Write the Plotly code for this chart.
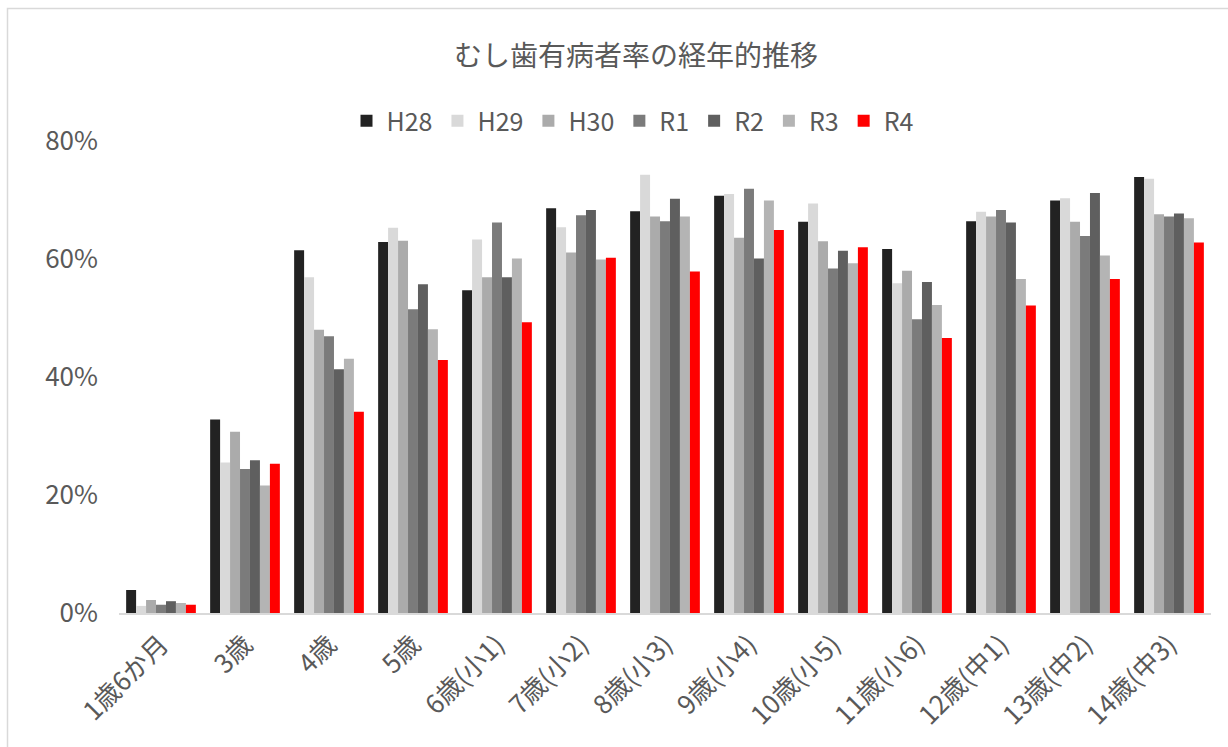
import plotly.graph_objects as go

categories = ["1歳6か月", "3歳", "4歳", "5歳", "6歳(小1)", "7歳(小2)", "8歳(小3)",
              "9歳(小4)", "10歳(小5)", "11歳(小6)", "12歳(中1)", "13歳(中2)", "14歳(中3)"]

series_names = ["H28", "H29", "H30", "R1", "R2", "R3", "R4"]

H28 = [3.9, 32.8, 61.5, 62.9, 54.7, 68.6, 68.1, 70.7, 66.3, 61.7, 66.4, 69.9, 73.9]
H29 = [1.2, 25.5, 56.9, 65.3, 63.3, 65.4, 74.3, 71.0, 69.4, 55.9, 68.0, 70.3, 73.6]
H30 = [2.2, 30.7, 48.0, 63.1, 56.9, 61.1, 67.2, 63.6, 63.0, 58.0, 67.2, 66.3, 67.6]
R1 = [1.4, 24.4, 46.9, 51.5, 66.2, 67.4, 66.4, 71.9, 58.4, 49.8, 68.3, 63.9, 67.2]
R2 = [2.0, 25.9, 41.3, 55.7, 56.9, 68.3, 70.2, 60.1, 61.4, 56.1, 66.2, 71.2, 67.7]
R3 = [1.7, 21.6, 43.1, 48.1, 60.1, 59.9, 67.2, 69.9, 59.3, 52.2, 56.6, 60.6, 66.9]
R4 = [1.4, 25.3, 34.1, 42.9, 49.3, 60.2, 57.9, 64.9, 62.0, 46.6, 52.1, 56.6, 62.8]

series_values = [H28, H29, H30, R1, R2, R3, R4]
colors = ["#222222", "#D9D9D9", "#ABABAB", "#7B7B7B", "#5F5F5F", "#B4B4B4", "#FF0000"]

FONT = "Noto Sans CJK JP"
TXT = "#595959"

fig = go.Figure()
for name, vals, col in zip(series_names, series_values, colors):
    fig.add_trace(go.Bar(
        name=name, x=categories, y=[v / 100 for v in vals],
        marker=dict(color=col, line=dict(width=0)),
    ))

L, R, T, B = 119, 17, 141, 134
W, H = 1228, 747
pw, ph = W - L - R, H - T - B

def px2x(px):
    return (px - L) / pw

def py2y(py):
    return (H - B - py) / ph

fig.update_layout(
    width=W, height=H,
    margin=dict(l=L, r=R, t=T, b=B, pad=0, autoexpand=False),
    paper_bgcolor="white", plot_bgcolor="white",
    barmode="group", bargap=0.17, bargroupgap=0,
    font=dict(family=FONT, color=TXT, size=25),
    title=dict(text="むし歯有病者率の経年的推移", x=636 / W, xanchor="center",
               y=1 - 56 / H, yanchor="middle",
               font=dict(family=FONT, size=28, color=TXT)),
    legend=dict(orientation="h", x=px2x(633), xanchor="center", y=py2y(121), yanchor="middle",
                font=dict(family=FONT, size=25, color=TXT), itemwidth=30,
                bgcolor="rgba(0,0,0,0)", traceorder="normal"),
    xaxis=dict(showline=True, linecolor="#D9D9D9", linewidth=2, ticks="",
               tickangle=-45, tickfont=dict(size=26, color=TXT, family=FONT),
               showgrid=False, ticklabelstandoff=4, automargin=False),
    yaxis=dict(range=[0, 0.8], dtick=0.2, tickformat=".0%", showgrid=False,
               zeroline=False, showline=False, ticks="", automargin=False,
               tickfont=dict(size=26, color=TXT, family=FONT), ticklabelstandoff=20),
    shapes=[dict(type="rect", xref="paper", yref="paper",
                 x0=px2x(7.5), x1=px2x(1260), y0=py2y(790), y1=py2y(8.5),
                 line=dict(color="#D9D9D9", width=1.5), fillcolor="rgba(0,0,0,0)", layer="below")],
)

fig.write_html("out.html")
